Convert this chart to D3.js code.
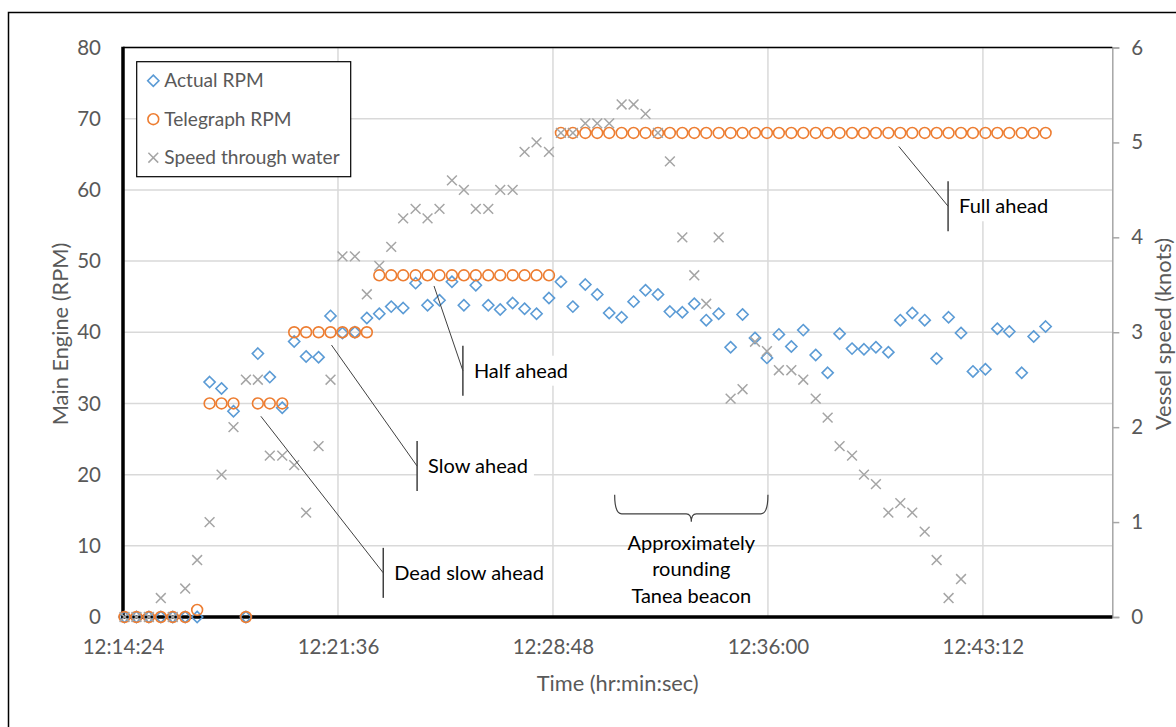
<!DOCTYPE html>
<html>
<head>
<meta charset="utf-8">
<script src="https://cdn.jsdelivr.net/npm/d3@7"></script>
<style>
body { margin: 0; background: #fff; }
text { font-family: Lato, "Open Sans", sans-serif; }
</style>
</head>
<body>
<div id="chart"></div>
<script>
// sample times (hr:min:sec)
const times = [
    "12:14:27","12:14:51","12:15:16","12:15:40","12:16:04","12:16:29","12:16:53","12:17:18","12:17:42","12:18:06",
    "12:18:31","12:18:55","12:19:19","12:19:44","12:20:08","12:20:32","12:20:57","12:21:21","12:21:45","12:22:10",
    "12:22:34","12:22:59","12:23:23","12:23:47","12:24:12","12:24:36","12:25:00","12:25:25","12:25:49","12:26:13",
    "12:26:38","12:27:02","12:27:27","12:27:51","12:28:15","12:28:40","12:29:04","12:29:28","12:29:53","12:30:17",
    "12:30:41","12:31:06","12:31:30","12:31:54","12:32:19","12:32:43","12:33:08","12:33:32","12:33:56","12:34:21",
    "12:34:45","12:35:09","12:35:34","12:35:58","12:36:22","12:36:47","12:37:11","12:37:36","12:38:00","12:38:24",
    "12:38:49","12:39:13","12:39:37","12:40:02","12:40:26","12:40:50","12:41:15","12:41:39","12:42:03","12:42:28",
    "12:42:52","12:43:17","12:43:41","12:44:05","12:44:30","12:44:54","12:45:18"
];

const actualRpm = [
    0, 0, 0, 0, 0, 0, 0, 33.0, 32.1, 28.9,
    0, 37.0, 33.7, 29.4, 38.7, 36.6, 36.5, 42.3, 39.9, 40.0,
    42.0, 42.6, 43.6, 43.4, 46.9, 43.8, 44.5, 47.1, 43.8, 46.6,
    43.8, 43.2, 44.1, 43.3, 42.6, 44.8, 47.1, 43.6, 46.7, 45.3,
    42.7, 42.1, 44.3, 45.9, 45.3, 42.9, 42.8, 44.0, 41.7, 42.6,
    37.9, 42.5, 39.2, 36.4, 39.7, 38.0, 40.3, 36.8, 34.3, 39.8,
    37.7, 37.6, 37.9, 37.2, 41.7, 42.7, 41.7, 36.3, 42.1, 39.9,
    34.5, 34.8, 40.5, 40.1, 34.3, 39.4, 40.8
];

const telegraphRpm = [
    0, 0, 0, 0, 0, 0, 1, 30, 30, 30,
    0, 30, 30, 30, 40, 40, 40, 40, 40, 40,
    40, 48, 48, 48, 48, 48, 48, 48, 48, 48,
    48, 48, 48, 48, 48, 48, 68, 68, 68, 68,
    68, 68, 68, 68, 68, 68, 68, 68, 68, 68,
    68, 68, 68, 68, 68, 68, 68, 68, 68, 68,
    68, 68, 68, 68, 68, 68, 68, 68, 68, 68,
    68, 68, 68, 68, 68, 68, 68
];

// speed log stops earlier than the engine log
const speedKnots = [
    0, 0, 0, 0.2, 0, 0.3, 0.6, 1.0, 1.5, 2.0,
    2.5, 2.5, 1.7, 1.7, 1.6, 1.1, 1.8, 2.5, 3.8, 3.8,
    3.4, 3.7, 3.9, 4.2, 4.3, 4.2, 4.3, 4.6, 4.5, 4.3,
    4.3, 4.5, 4.5, 4.9, 5.0, 4.9, 5.1, 5.1, 5.2, 5.2,
    5.2, 5.4, 5.4, 5.3, 5.1, 4.8, 4.0, 3.6, 3.3, 4.0,
    2.3, 2.4, 2.9, 2.8, 2.6, 2.6, 2.5, 2.3, 2.1, 1.8,
    1.7, 1.5, 1.4, 1.1, 1.2, 1.1, 0.9, 0.6, 0.2, 0.4
];

const timeTicks = ["12:14:24", "12:21:36", "12:28:48", "12:36:00", "12:43:12"];
const timeDomain = ["12:14:24", "12:47:32"];
const rpmTicks = [0, 10, 20, 30, 40, 50, 60, 70, 80];
const speedTicks = [0, 1, 2, 3, 4, 5, 6];
const seriesNames = ["Actual RPM", "Telegraph RPM", "Speed through water"];

// callouts: anchor point and label point in (time, rpm)
const callouts = [
    { label: "Full ahead",      anchor: ["12:40:23", 66.1], at: ["12:42:02", 57.7] },
    { label: "Half ahead",      anchor: ["12:24:49", 46.5], at: ["12:25:47", 34.6] },
    { label: "Slow ahead",      anchor: ["12:21:23", 38.2], at: ["12:24:15", 21.2] },
    { label: "Dead slow ahead", anchor: ["12:19:01", 28.2], at: ["12:23:07", 6.2] }
];

const beaconSpan = ["12:30:52", "12:36:00"];
const beaconLevel = 14.5;
const beaconTextLevel = 10.4;
const beaconLines = ["Approximately", "rounding", "Tanea beacon"];

class EngineChart {

    constructor() {
        this.setDefaults();
    }

    setDefaults() {
        this.width = 1176;
        this.height = 727;
        this.left = 123;
        this.right = 1112.3;
        this.top = 47.5;
        this.bottom = 617;
        this.textColor = "#595959";
        this.gridColor = "#d9d9d9";
        this.blue = "#5b9bd5";
        this.orange = "#ed7d31";
        this.gray = "#a5a5a5";
        this.calloutColor = "#404040";
        this.tickFont = "20.5px";
        this.titleFont = "21.8px";
        this.legendFont = "19.1px";
        this.noteFont = "20px";
    }

    toSeconds(s) {
        let p = s.split(":").map(Number);
        return p[0] * 3600 + p[1] * 60 + p[2];
    }

    /*
     *  Build everything.
     */
    update() {
        this.svg = d3.select("#chart").append("svg")
            .attr("width", this.width)
            .attr("height", this.height);

        this.x = d3.scaleLinear()
            .domain(timeDomain.map(t => this.toSeconds(t)))
            .range([this.left, this.right]);
        this.y = d3.scaleLinear().domain([0, 80]).range([this.bottom, this.top]);
        this.y2 = d3.scaleLinear().domain([0, 6]).range([this.bottom, this.top]);

        this.drawFrame();
        this.drawGrid();
        this.drawAxes();
        this.drawSeries();
        this.drawLegend();
        this.drawCallouts();
        this.drawBeacon();
    }

    drawFrame() {
        this.svg.append("rect")
            .attr("x", 8.5).attr("y", 12.5)
            .attr("width", 1200).attr("height", 800)
            .attr("fill", "none")
            .attr("stroke", "#000")
            .attr("stroke-width", 1.5);
    }

    drawGrid() {
        let g = this.svg.append("g");
        g.selectAll(".hgrid").data(rpmTicks.slice(1)).join("line")
            .attr("x1", this.left).attr("x2", this.right)
            .attr("y1", d => this.y(d)).attr("y2", d => this.y(d))
            .attr("stroke", this.gridColor).attr("stroke-width", 1.5);
        g.selectAll(".vgrid").data(timeTicks.slice(1)).join("line")
            .attr("x1", d => this.x(this.toSeconds(d))).attr("x2", d => this.x(this.toSeconds(d)))
            .attr("y1", this.top).attr("y2", this.bottom)
            .attr("stroke", this.gridColor).attr("stroke-width", 1.5);
    }

    /*
     *  Axis lines, tick labels and titles.
     */
    drawAxes() {
        // bottom: time
        let xAxis = d3.axisBottom(this.x)
            .tickValues(timeTicks.map(t => this.toSeconds(t)))
            .tickFormat((d, i) => timeTicks[i])
            .tickSize(0).tickPadding(0);
        let gx = this.svg.append("g").attr("transform", "translate(0," + this.bottom + ")").call(xAxis);
        gx.select(".domain").remove();
        gx.selectAll("text")
            .attr("y", 30).attr("dy", "0.35em")
            .attr("fill", this.textColor)
            .style("font-size", this.tickFont);

        // left: rpm
        let yAxis = d3.axisLeft(this.y).tickValues(rpmTicks).tickSize(0).tickPadding(22);
        let gy = this.svg.append("g").attr("transform", "translate(" + this.left + ",0)").call(yAxis);
        gy.select(".domain").remove();
        gy.selectAll("text").attr("fill", this.textColor).style("font-size", this.tickFont);

        // right: knots
        let y2Axis = d3.axisRight(this.y2).tickValues(speedTicks)
            .tickFormat(d3.format("d")).tickSize(7).tickPadding(12);
        let gy2 = this.svg.append("g").attr("transform", "translate(" + this.right + ",0)").call(y2Axis);
        gy2.select(".domain").attr("stroke", "#a6a6a6").attr("stroke-width", 1.5);
        gy2.selectAll(".tick line").attr("stroke", "#a6a6a6").attr("stroke-width", 1.5);
        gy2.selectAll("text").attr("fill", this.textColor).style("font-size", this.tickFont);

        // top border and black primary axes
        this.svg.append("line")
            .attr("x1", this.left).attr("x2", this.right)
            .attr("y1", this.top).attr("y2", this.top)
            .attr("stroke", "#000").attr("stroke-width", 1.5);
        this.svg.append("line")
            .attr("x1", this.left).attr("x2", this.left)
            .attr("y1", this.top - 0.75).attr("y2", this.bottom + 1.75)
            .attr("stroke", "#000").attr("stroke-width", 3.5);
        this.svg.append("line")
            .attr("x1", this.left - 1.75).attr("x2", this.right)
            .attr("y1", this.bottom).attr("y2", this.bottom)
            .attr("stroke", "#000").attr("stroke-width", 3.5);

        let midY = 334;
        this.svg.append("text")
            .attr("transform", "translate(60," + midY + ") rotate(-90)")
            .attr("text-anchor", "middle").attr("dy", "0.35em")
            .attr("fill", this.textColor).style("font-size", this.titleFont)
            .text("Main Engine (RPM)");
        this.svg.append("text")
            .attr("transform", "translate(1163," + midY + ") rotate(-90)")
            .attr("text-anchor", "middle").attr("dy", "0.35em")
            .attr("fill", this.textColor).style("font-size", this.titleFont)
            .text("Vessel speed (knots)");
        this.svg.append("text")
            .attr("x", 617.7).attr("y", 683)
            .attr("text-anchor", "middle").attr("dy", "0.35em")
            .attr("fill", this.textColor).style("font-size", this.titleFont)
            .text("Time (hr:min:sec)");
    }

    /*
     *  Marker shapes.
     */
    diamond(g, color) {
        g.append("path").attr("d", "M0,-5.6L5.6,0L0,5.6L-5.6,0Z")
            .attr("fill", "none").attr("stroke", color).attr("stroke-width", 1.6);
    }

    circle(g, color) {
        g.append("circle").attr("r", 5.4)
            .attr("fill", "none").attr("stroke", color).attr("stroke-width", 1.6);
    }

    cross(g, color) {
        g.append("path").attr("d", "M-4.9,-4.9L4.9,4.9M-4.9,4.9L4.9,-4.9")
            .attr("fill", "none").attr("stroke", color).attr("stroke-width", 1.5);
    }

    drawSeries() {
        let self = this;
        let secs = times.map(t => this.toSeconds(t));

        this.svg.append("g").selectAll("g").data(actualRpm).join("g")
            .attr("transform", (d, i) => "translate(" + this.x(secs[i]) + "," + this.y(d) + ")")
            .each(function() { self.diamond(d3.select(this), self.blue); });

        this.svg.append("g").selectAll("g").data(telegraphRpm).join("g")
            .attr("transform", (d, i) => "translate(" + this.x(secs[i]) + "," + this.y(d) + ")")
            .each(function() { self.circle(d3.select(this), self.orange); });

        this.svg.append("g").selectAll("g").data(speedKnots).join("g")
            .attr("transform", (d, i) => "translate(" + this.x(secs[i]) + "," + this.y2(d) + ")")
            .each(function() { self.cross(d3.select(this), self.gray); });
    }

    drawLegend() {
        let g = this.svg.append("g").attr("transform", "translate(136.7,61.7)");
        g.append("rect").attr("width", 214).attr("height", 115)
            .attr("fill", "#fff").attr("stroke", "#000").attr("stroke-width", 1.2);

        let makers = [this.diamond, this.circle, this.cross];
        let colors = [this.blue, this.orange, this.gray];
        seriesNames.forEach((name, i) => {
            let row = g.append("g").attr("transform", "translate(16.6," + (19 + i * 38.5) + ")");
            makers[i].call(this, row.append("g"), colors[i]);
            row.append("text").attr("x", 11).attr("dy", "0.35em")
                .attr("fill", this.textColor).style("font-size", this.legendFont)
                .text(name);
        });
    }

    /*
     *  Callouts with an accent bar and a leader line.
     */
    drawCallouts() {
        callouts.forEach(c => {
            let ax = this.x(this.toSeconds(c.anchor[0])), ay = this.y(c.anchor[1]);
            let bx = this.x(this.toSeconds(c.at[0])), by = this.y(c.at[1]);
            let g = this.svg.append("g");

            let box = g.append("rect").attr("fill", "#fff");
            let label = g.append("text")
                .attr("x", bx + 11).attr("y", by).attr("dy", "0.35em")
                .attr("fill", "#000").style("font-size", this.noteFont)
                .text(c.label);
            let w = label.node().getComputedTextLength();
            box.attr("x", bx).attr("y", by - 15).attr("width", w + 17).attr("height", 30);

            g.append("line").attr("x1", ax).attr("y1", ay).attr("x2", bx).attr("y2", by)
                .attr("stroke", this.calloutColor).attr("stroke-width", 1);
            g.append("line").attr("x1", bx).attr("y1", by - 25).attr("x2", bx).attr("y2", by + 25)
                .attr("stroke", this.calloutColor).attr("stroke-width", 1.5);
        });
    }

    drawBeacon() {
        let x0 = this.x(this.toSeconds(beaconSpan[0]));
        let x1 = this.x(this.toSeconds(beaconSpan[1]));
        let xm = (x0 + x1) / 2;
        let yb = this.y(beaconLevel);

        let path = "M" + x0 + "," + (yb - 19) +
            "Q" + x0 + "," + yb + " " + (x0 + 7) + "," + yb +
            "L" + (xm - 5) + "," + yb +
            "Q" + xm + "," + yb + " " + xm + "," + (yb + 8) +
            "Q" + xm + "," + yb + " " + (xm + 5) + "," + yb +
            "L" + (x1 - 7) + "," + yb +
            "Q" + x1 + "," + yb + " " + x1 + "," + (yb - 19);
        this.svg.append("path").attr("d", path)
            .attr("fill", "none").attr("stroke", this.calloutColor).attr("stroke-width", 1.2);

        let ty = this.y(beaconTextLevel);
        this.svg.append("g").selectAll("text").data(beaconLines).join("text")
            .attr("x", xm).attr("y", (d, i) => ty + i * 26.5).attr("dy", "0.35em")
            .attr("text-anchor", "middle")
            .attr("fill", "#000").style("font-size", this.noteFont)
            .text(d => d);
    }
}

let chart = new EngineChart();
chart.update();
</script>
</body>
</html>
